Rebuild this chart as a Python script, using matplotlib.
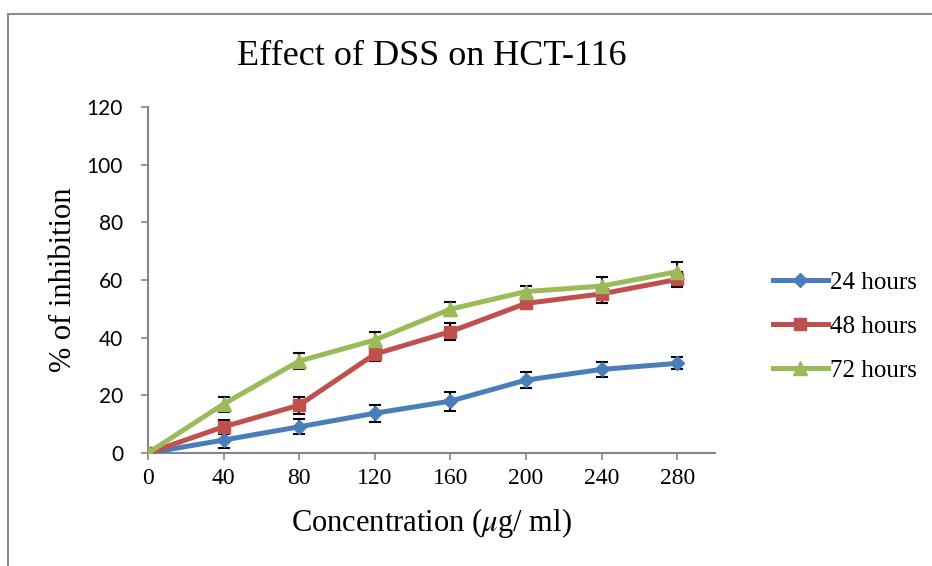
import matplotlib
matplotlib.use("Agg")
from matplotlib import pyplot as plt
from matplotlib.patches import Rectangle
from matplotlib.lines import Line2D

# data
conc = [0, 40, 80, 120, 160, 200, 240, 280]
h24 = [0, 4.5, 9.1, 13.8, 18.0, 25.3, 29.0, 31.1]
h48 = [0, 9.1, 16.6, 34.3, 42.1, 51.9, 55.2, 60.2]
h72 = [0, 17.0, 31.9, 39.2, 49.9, 56.0, 57.9, 62.9]
err24 = [0, 2.9, 2.6, 3.0, 3.3, 2.7, 2.6, 2.1]
err48 = [0, 2.4, 2.9, 2.3, 3.0, 1.9, 3.0, 2.6]
err72 = [0, 2.6, 2.8, 2.7, 2.5, 2.1, 3.0, 3.5]
yticks = [0, 20, 40, 60, 80, 100, 120]

serif = "Liberation Serif"
sans = "Lato"
plt.rcParams["mathtext.fontset"] = "stix"

fig = plt.figure(figsize=(9.32, 5.66), dpi=100)
ax = fig.add_axes([0.1588, 0.1996, 0.6084, 0.6113])

# outer chart border
fig.add_artist(Rectangle((8/932, -0.2), 2, 1 - 14/566 + 0.2, transform=fig.transFigure,
                         fill=False, edgecolor="#8c8c8c", lw=1.5))

series = [
    (h24, err24, "24 hours", "#4A7EBB", "D", 7),
    (h48, err48, "48 hours", "#C0504D", "s", 9),
    (h72, err72, "72 hours", "#9BBB59", "^", 10),
]
handles = []
for y, e, lab, col, mk, ms in series:
    ax.errorbar(conc, y, yerr=e, color=col, lw=3.6, marker=mk, markersize=ms,
                ecolor="black", elinewidth=1.5, capsize=4, capthick=1.5, zorder=3)
    handles.append(Line2D([], [], color=col, lw=3.6, marker=mk, markersize=ms, label=lab))

ax.set_xlim(0, 300)
ax.set_ylim(0, 120)
ax.set_xticks(conc)
ax.set_yticks(yticks)
for s in ["top", "right"]:
    ax.spines[s].set_visible(False)
for s in ["left", "bottom"]:
    ax.spines[s].set_color("#868686")
    ax.spines[s].set_linewidth(1.5)
ax.tick_params(axis="both", direction="out", length=5, width=1.2, color="#868686")
ax.set_xticklabels([str(c) for c in conc], fontfamily=serif, fontsize=17)
ax.set_yticklabels([str(v) for v in yticks], fontfamily=sans, fontsize=15)
ax.tick_params(axis="x", pad=6)
ax.tick_params(axis="y", pad=13)

ax.set_title("Effect of DSS on HCT-116", fontfamily=serif, fontsize=26, pad=30)
ax.set_xlabel("Concentration ($\\mathit{\\mu}$g/ ml)", fontfamily=serif, fontsize=22, labelpad=12)
ax.set_ylabel("% of inhibition", fontfamily=serif, fontsize=22, labelpad=6)

ax.legend(handles=handles, loc="center left", bbox_to_anchor=(1.062, 0.365), frameon=False,
          prop={"family": serif, "size": 18}, handlelength=2.2,
          handletextpad=0.1, labelspacing=0.85)

fig.savefig("out.png", dpi=100)
